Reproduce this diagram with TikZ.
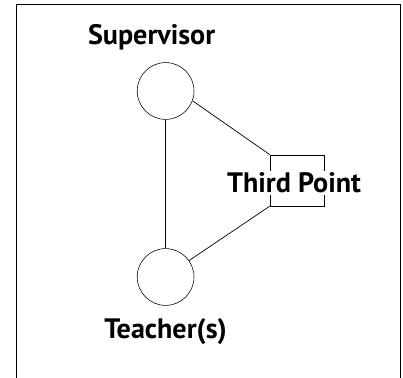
\documentclass[tikz,border=0pt]{standalone}
\usepackage{fontspec}
\setmainfont{PT Sans}
\begin{document}
\begin{tikzpicture}[
  role/.style={circle, draw, minimum size=1.42cm, inner sep=0pt},
  label/.style={font=\bfseries\fontsize{20}{22}\selectfont, inner sep=0pt},
  link/.style={draw, line width=0.5pt}
]

% Page size
\useasboundingbox (0,0) rectangle (10.075,9.45);

% Open frame round the picture
\draw[line width=0.5pt] (0.4,0) -- (0.4,9.35) -- (10,9.35) -- (10,0);

% The two people
\node[role] (sup) at (4.14,7.175) {};
\node[role] (tea) at (4.14,2.525) {};
\node[label] (suplabel) at (3.79,8.525) {Supervisor};
\node[label] (tealabel) at (4.14,1.15) {Teacher(s)};

% Third point box, text laid over it
\node[draw, line width=0.5pt, minimum width=1.35cm, minimum height=1.275cm, inner sep=0pt] (box) at (7.425,4.94) {};
\node[label, fill=white, inner sep=1pt] (third) at (7.35,4.875) {Third Point};

% Links
\path[link] (sup.south) -- (tea.north);
\path[link] (sup.-20) -- (box.north west);
\path[link] (tea.35) -- (box.south west);

\end{tikzpicture}
\end{document}
